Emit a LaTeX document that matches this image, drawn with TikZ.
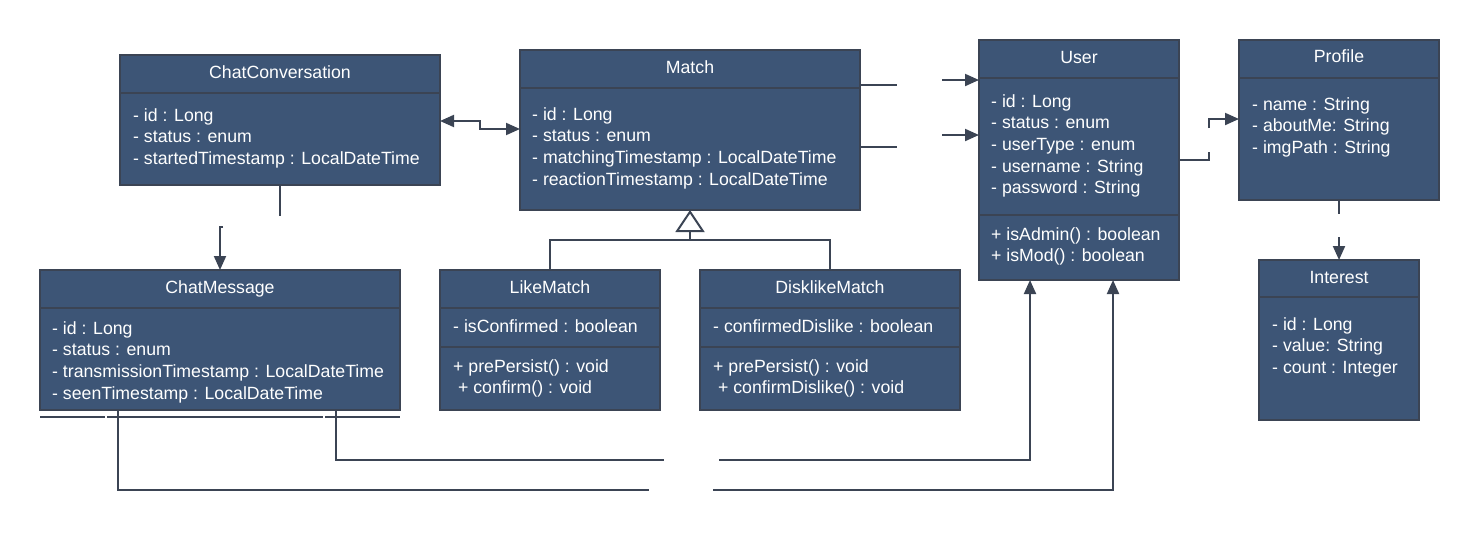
\documentclass[tikz,border=0pt]{standalone}
\usepackage{fontspec}
\setsansfont{Liberation Sans}
\usepackage{tikz}
\usetikzlibrary{arrows.meta}
\definecolor{boxfill}{RGB}{61,85,118}
\definecolor{boxline}{RGB}{59,68,84}

\begin{document}
\begin{tikzpicture}[x=1pt, y=-1pt, >={Triangle[length=14pt,width=12pt]},
  classbox/.style={draw=boxline, fill=boxfill, line width=2pt, anchor=north west, inner sep=0pt, outer sep=0pt},
  head/.style={text=white, inner sep=0pt, text height=0.72em, text depth=0pt},
  member/.style={text=white, anchor=west, inner sep=0pt, text height=0.72em, text depth=0pt},
  sep/.style={draw=boxline, line width=2pt},
  link/.style={draw=boxline, line width=2pt}]
\sffamily\fontsize{17.7}{21.6}\selectfont
\useasboundingbox (0,0) rectangle (1479,541);

% classes
\node[classbox, minimum width=320pt, minimum height=130pt] (chatconv) at (120,55) {};
\node[head] (chatconv-h) at (chatconv.north |- 0,72) {ChatConversation};
\draw[sep] (chatconv.west |- 0,93) -- (chatconv.east |- 0,93);
\foreach \t [count=\i] in {- id : Long, - status : enum, - startedTimestamp : LocalDateTime}
  \node[member] (chatconv-\i) at (133,{115+21.6*(\i-1)}) {\t};

\node[classbox, minimum width=340pt, minimum height=160pt] (match) at (520,50) {};
\node[head] (match-h) at (match.north |- 0,67) {Match};
\draw[sep] (match.west |- 0,88) -- (match.east |- 0,88);
\foreach \t [count=\i] in {- id : Long, - status : enum, - matchingTimestamp : LocalDateTime, - reactionTimestamp : LocalDateTime}
  \node[member] (match-\i) at (532,{114+21.6*(\i-1)}) {\t};

\node[classbox, minimum width=200pt, minimum height=240pt] (user) at (979,40) {};
\node[head] (user-h) at (user.north |- 0,57) {User};
\draw[sep] (user.west |- 0,78) -- (user.east |- 0,78);
\draw[sep] (user.west |- 0,215) -- (user.east |- 0,215);
\foreach \t [count=\i] in {- id : Long, - status : enum, - userType : enum, - username : String, - password : String}
  \node[member] (user-\i) at (991,{101+21.6*(\i-1)}) {\t};
\foreach \t [count=\i] in {+ isAdmin() : boolean, + isMod() : boolean}
  \node[member] (user-m\i) at (991,{234+21.6*(\i-1)}) {\t};

\node[classbox, minimum width=200pt, minimum height=160pt] (profile) at (1239,40) {};
\node[head] (profile-h) at (profile.north |- 0,56) {Profile};
\draw[sep] (profile.west |- 0,78) -- (profile.east |- 0,78);
\foreach \t [count=\i] in {- name : String, - aboutMe: String, - imgPath : String}
  \node[member] (profile-\i) at (1252,{104+21.6*(\i-1)}) {\t};

\node[classbox, minimum width=160pt, minimum height=160pt] (interest) at (1259,260) {};
\node[head] (interest-h) at (interest.north |- 0,277) {Interest};
\draw[sep] (interest.west |- 0,297) -- (interest.east |- 0,297);
\foreach \t [count=\i] in {- id : Long, - value: String, - count : Integer}
  \node[member] (interest-\i) at (1272,{324+21.6*(\i-1)}) {\t};

\node[classbox, minimum width=360pt, minimum height=140pt] (chatmsg) at (40,270) {};
\node[head] (chatmsg-h) at (chatmsg.north |- 0,287) {ChatMessage};
\draw[sep] (chatmsg.west |- 0,308) -- (chatmsg.east |- 0,308);
\foreach \t [count=\i] in {- id : Long, - status : enum, - transmissionTimestamp : LocalDateTime, - seenTimestamp : LocalDateTime}
  \node[member] (chatmsg-\i) at (52,{328+21.6*(\i-1)}) {\t};

\node[classbox, minimum width=220pt, minimum height=140pt] (likematch) at (440,270) {};
\node[head] (likematch-h) at (likematch.north |- 0,287) {LikeMatch};
\draw[sep] (likematch.west |- 0,308) -- (likematch.east |- 0,308);
\draw[sep] (likematch.west |- 0,347) -- (likematch.east |- 0,347);
\node[member] (likematch-1) at (453,326) {- isConfirmed : boolean};
\foreach \t [count=\i] in {+ prePersist() : void, \ + confirm() : void}
  \node[member] (likematch-m\i) at (453,{366+21.6*(\i-1)}) {\t};

\node[classbox, minimum width=260pt, minimum height=140pt] (dislike) at (700,270) {};
\node[head] (dislike-h) at (dislike.north |- 0,287) {DisklikeMatch};
\draw[sep] (dislike.west |- 0,308) -- (dislike.east |- 0,308);
\draw[sep] (dislike.west |- 0,347) -- (dislike.east |- 0,347);
\node[member] (dislike-1) at (713,326) {- confirmedDislike : boolean};
\foreach \t [count=\i] in {+ prePersist() : void, \ + confirmDislike() : void}
  \node[member] (dislike-m\i) at (713,{366+21.6*(\i-1)}) {\t};

% loose ends of the connectors
\coordinate (cm-a) at (280,216);
\coordinate (cm-b) at (223,227);
\coordinate (mu-a) at (897,85);
\coordinate (mu-b) at (942,80);
\coordinate (mu-c) at (897,147);
\coordinate (mu-d) at (942,135);
\coordinate (up-a) at (1209,152);
\coordinate (up-b) at (1209,128);
\coordinate (pi-a) at (1339,214);
\coordinate (pi-b) at (1339,237);
\coordinate (mu-e) at (664,460);
\coordinate (mu-f) at (719,460);
\coordinate (mu-g) at (649,490);
\coordinate (mu-h) at (713,490);

% connectors
\draw[link, <->] (chatconv.east |- 0,121) -- (480,121) |- (match.west |- 0,129);
\draw[link] (chatconv.south -| cm-a) -- (cm-a);
\draw[link, ->] (cm-b) -- (220,227) -- (chatmsg.north -| 220,0);
\draw[link] (match.east |- mu-a) -- (mu-a);
\draw[link, ->] (mu-b) -- (user.west |- mu-b);
\draw[link] (match.east |- mu-c) -- (mu-c);
\draw[link, ->] (mu-d) -- (user.west |- mu-d);
\draw[link] (user.east |- 0,160) -| (up-a);
\draw[link, ->] (up-b) |- (profile.west |- 0,119);
\draw[link] (profile.south -| pi-a) -- (pi-a);
\draw[link, ->] (pi-b) -- (interest.north -| pi-b);

% inheritance
\draw[link, -{Triangle[open,length=22pt,width=29pt]}] (match.south |- 0,240) -- (match.south);
\draw[link] (likematch.north) |- (match.south |- 0,240) -| (dislike.north);

% lines below ChatMessage
\draw[link] (chatmsg.west |- 0,417) -- (105,417);
\draw[link] (107,417) -- (323,417);
\draw[link] (325,417) -- (chatmsg.east |- 0,417);
\draw[link] (chatmsg.south -| 336,0) |- (mu-e);
\draw[link, ->] (mu-f) -| (user.south -| 1030,0);
\draw[link] (chatmsg.south -| 118,0) |- (mu-g);
\draw[link, ->] (mu-h) -| (user.south -| 1113,0);
\end{tikzpicture}
\end{document}
